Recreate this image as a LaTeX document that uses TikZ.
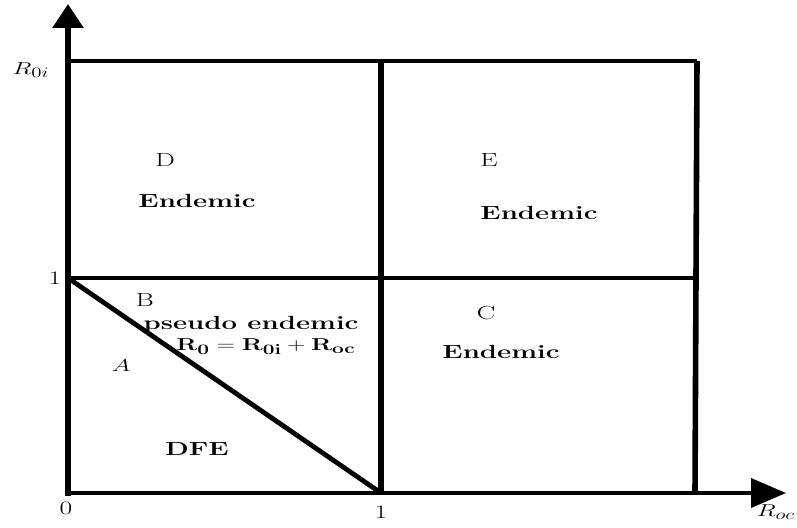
\documentclass[tikz,border=0pt]{standalone}
\usepackage{graphicx}
\usetikzlibrary{arrows.meta}
\newcommand\sxt[1]{\scalebox{1.45}[1]{#1}}
\begin{document}
\begin{tikzpicture}[x=1pt,y=-1pt,
  lbl/.style={font=\fontsize{19}{22}\selectfont, inner sep=0pt, anchor=center},
  hline/.style={line width=3.8pt},
  vline/.style={line width=5.6pt},
  diag/.style={line width=4.8pt}]
\useasboundingbox (0,0) rectangle (797,527);
% coordinates
\coordinate (O) at (68,493);
\coordinate (Ytip) at (68,4);
\coordinate (Xtip) at (786,493);
\coordinate (TL) at (66,61);
\coordinate (TM) at (381,61);
\coordinate (TR) at (697,61);
\coordinate (ML) at (68,278);
\coordinate (MM) at (381,278);
\coordinate (MR) at (695,278);
\coordinate (BM) at (381,493);
\coordinate (BR) at (695,493);
% grid
\draw[hline] (TL) -- (TR);
\draw[hline] (ML) -- (MR);
\draw[vline] (TM) -- (BM);
\draw[vline] (TR) -- (BR);
\draw[diag] (ML) -- (BM);
% axes
\draw[vline, -{Triangle[length=24pt,width=30pt]}] (68,496) -- (Ytip);
\draw[hline, -{Triangle[length=35pt,width=29pt]}] (65,493) -- (Xtip);
% axis labels
\node[lbl] (r0i) at (31,70) {\sxt{$R_{0i}$}};
\node[lbl] (one_y) at (55,278) {\sxt{1}};
\node[lbl] (zero) at (66,508) {\sxt{0}};
\node[lbl] (one_x) at (381,512) {\sxt{1}};
\node[lbl] (roc) at (776,512) {\sxt{$R_{oc}$}};
% region labels
\node[lbl] (D) at (165,160) {\sxt{D}};
\node[lbl] (endD) at (197,201) {\sxt{\textbf{Endemic}}};
\node[lbl] (E) at (489,160) {\sxt{E}};
\node[lbl] (endE) at (539,213) {\sxt{\textbf{Endemic}}};
\node[lbl] (B) at (145,300) {\sxt{B}};
\node[lbl] (pseudo) at (251,325) {\sxt{\textbf{pseudo endemic}}};
\node[lbl] (R0) at (266,347) {\sxt{$\mathbf{R_0 = R_{0i} + R_{oc}}$}};
\node[lbl] (A) at (121,366) {\sxt{$A$}};
\node[lbl] (C) at (486,313) {\sxt{C}};
\node[lbl] (endC) at (501,352) {\sxt{\textbf{Endemic}}};
\node[lbl] (dfe) at (197,449) {\sxt{\textbf{DFE}}};
\end{tikzpicture}
\end{document}
